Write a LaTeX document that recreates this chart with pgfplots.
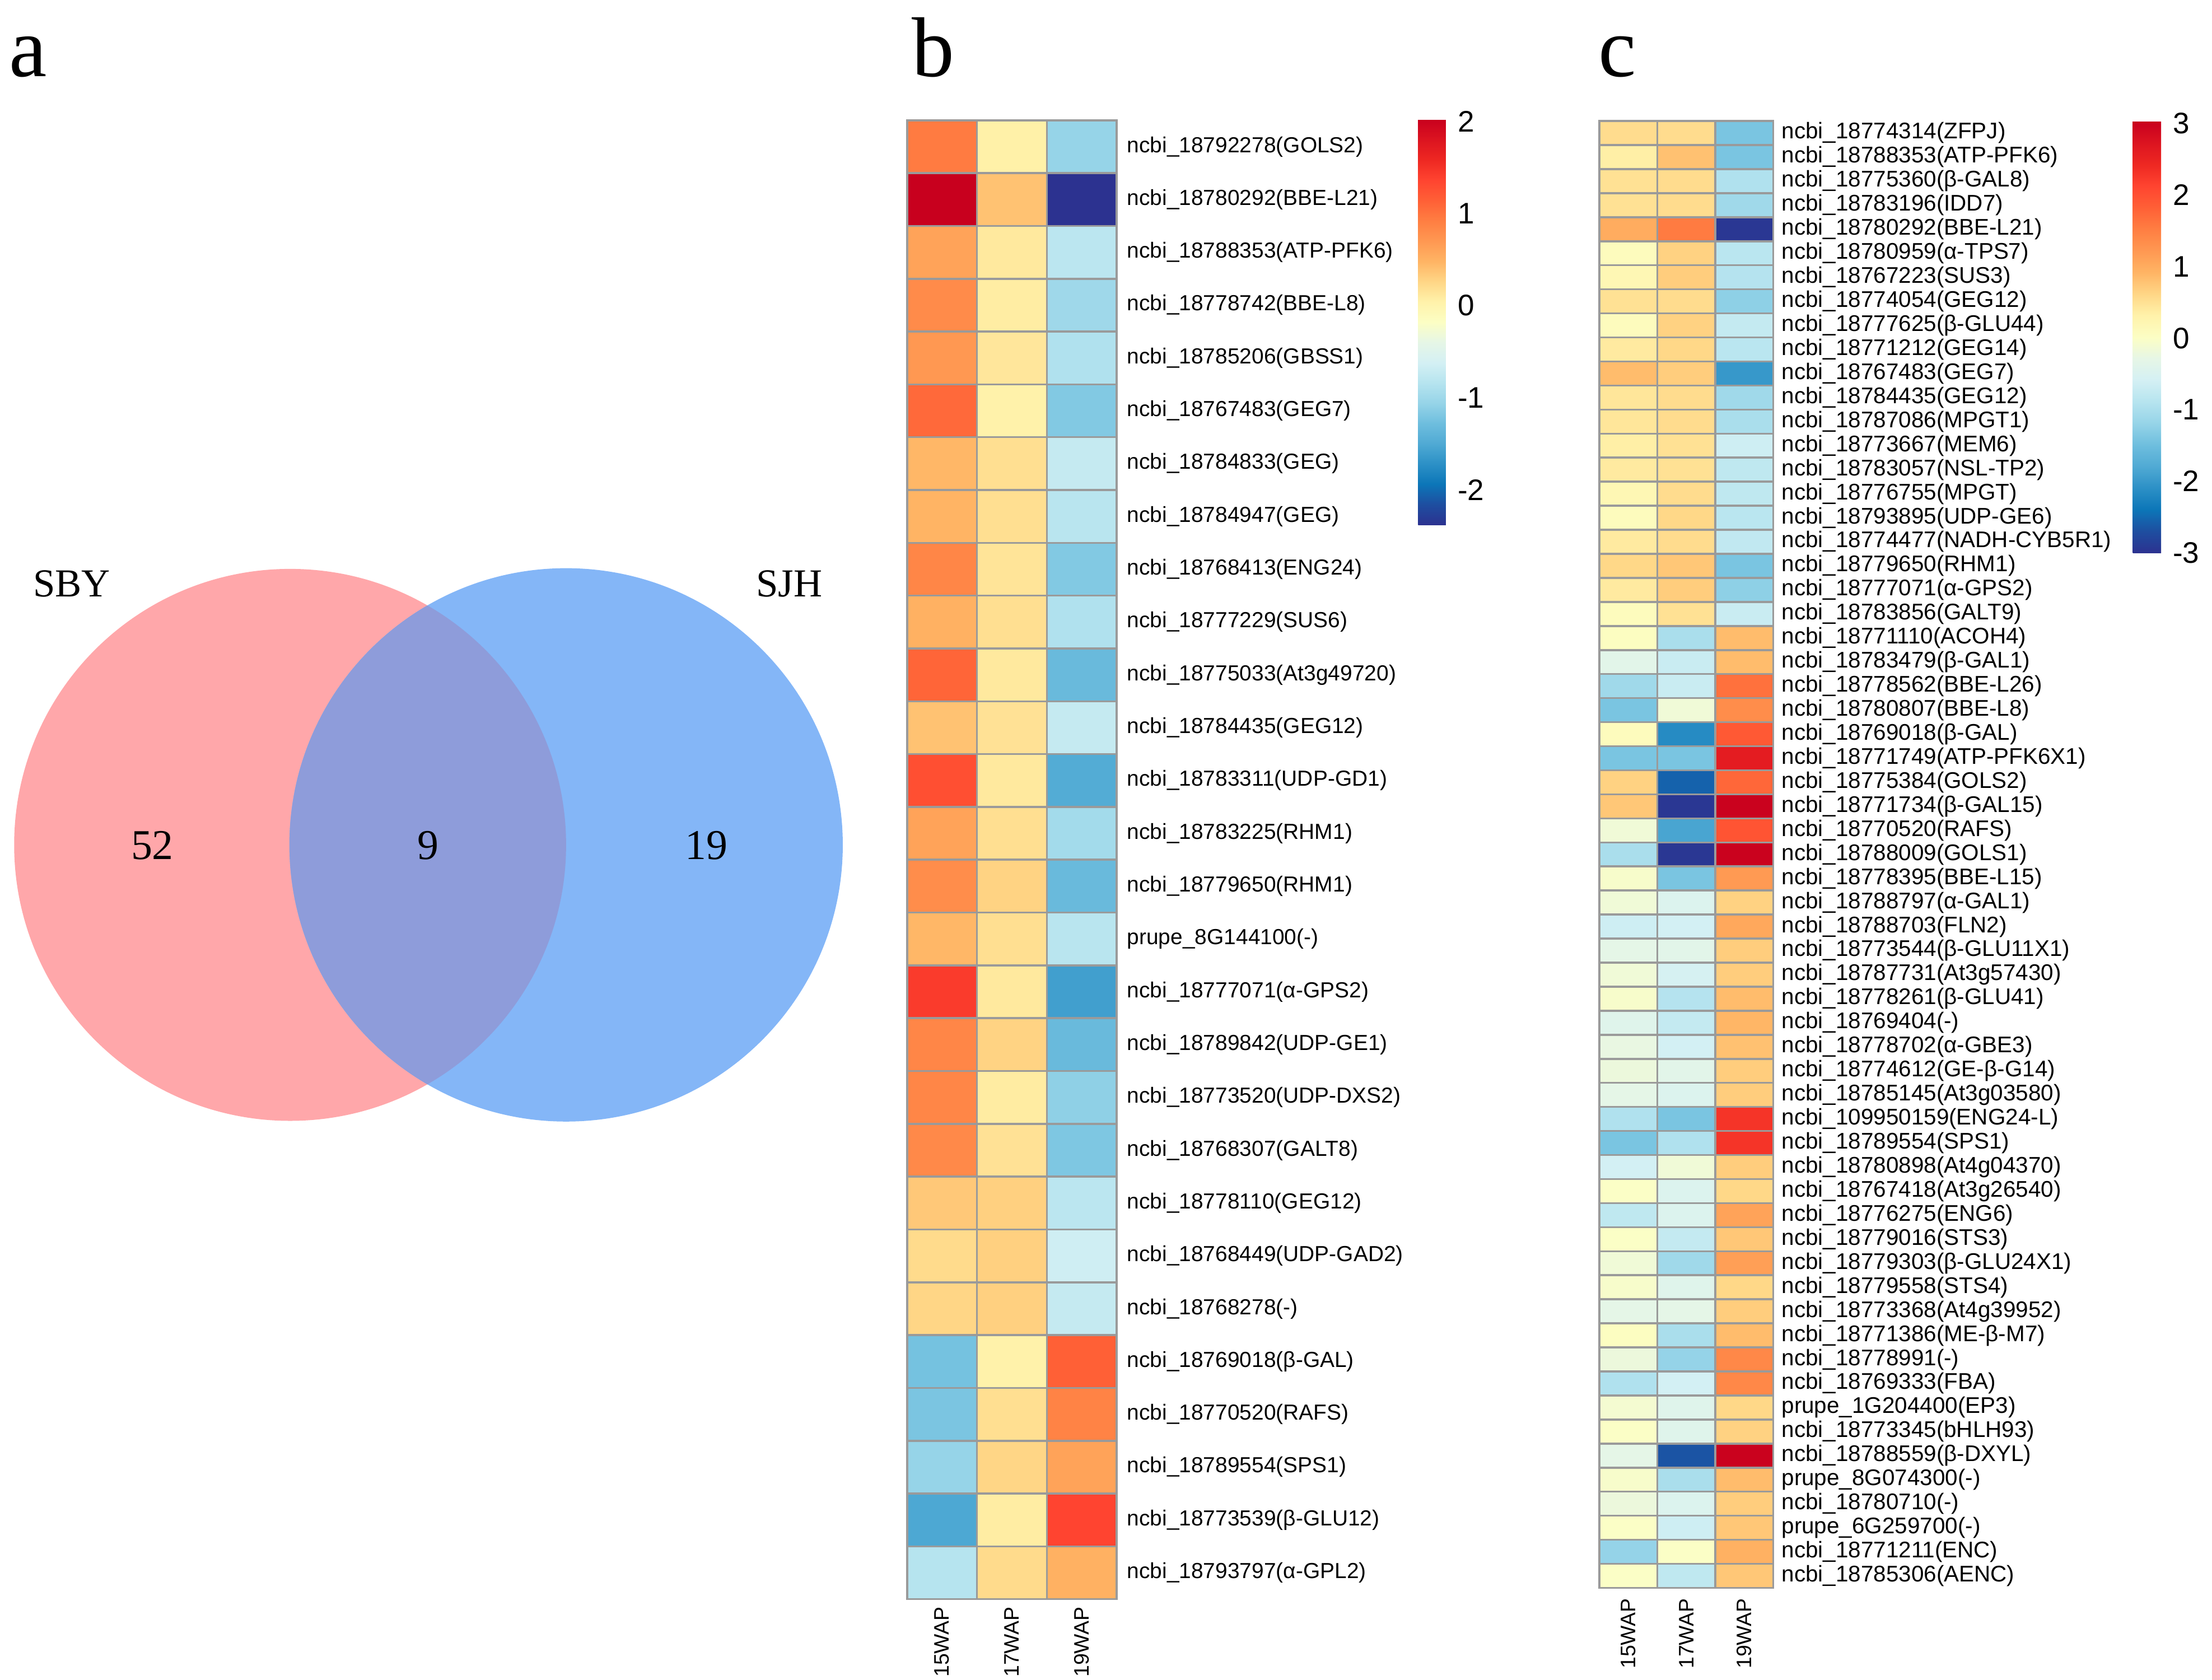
\documentclass[border=0pt]{standalone}
\usepackage{fontspec}
\setmainfont{Liberation Serif}
\newfontfamily\hv{Liberation Sans}
\usepackage{pgfplots}
\usepackage{pgfplotstable}
\pgfplotsset{compat=1.18}

% layout is measured on a 1563 x 1187 grid, 1 unit = 0.5pt
\definecolor{vennpink}{HTML}{FFA7AA}
\definecolor{vennblue}{HTML}{84B6F7}
\definecolor{vennmix}{HTML}{8E9CDA}
\definecolor{cellline}{HTML}{9A9A9A}

\pgfplotsset{
  colormap={heat}{rgb255=(44,50,144) rgb255=(30,78,160) rgb255=(12,118,184)
    rgb255=(44,144,198) rgb255=(80,170,212) rgb255=(110,190,222) rgb255=(150,212,232)
    rgb255=(182,228,239) rgb255=(212,240,244) rgb255=(230,246,230) rgb255=(252,254,196)
    rgb255=(255,242,170) rgb255=(255,214,134) rgb255=(255,180,100) rgb255=(255,152,82)
    rgb255=(255,126,66) rgb255=(255,96,54) rgb255=(255,68,48) rgb255=(238,40,34)
    rgb255=(220,20,32) rgb255=(200,0,30)},
  heatmap/.style={
    scale only axis, anchor=north west,
    xmin=-0.5, xmax=2.5, y dir=reverse,
    colormap name=heat,
    xtick={0,1,2}, xticklabels={15WAP,17WAP,19WAP},
    yticklabel pos=right,
    major tick length=0pt, minor tick length=0pt,
    tick style={draw=none},
    minor xtick={0.5,1.5},
    xminorgrids=true, yminorgrids=true,
    minor grid style={cellline, line width=0.7pt},
    axis line style={cellline, line width=0.7pt},
    axis on top,
    xticklabel style={font=\hv\fontsize{7.4}{8}\selectfont, rotate=90, anchor=east, inner ysep=0pt},
    yticklabel style={anchor=west, inner sep=0pt},
  },
  % a tiny hidden axis whose north east corner is the colour key's top left corner
  keyholder/.style={
    scale only axis, anchor=north east, width=1pt,
    xmin=0, xmax=1, ymin=0, ymax=1, hide axis,
    colormap name=heat,
    colorbar,
    colorbar shift/.style={xshift=0pt},
    colorbar style={at={(parent axis.north east)}, anchor=north west, scale only axis,
      yticklabel pos=right, major tick length=0pt, tick style={draw=none},
      axis line style={draw=none},
      yticklabel style={font=\hv\fontsize{10.5}{12}\selectfont, anchor=west, inner sep=0pt, xshift=4pt}},
  },
}

\pgfplotstableread{
x y c
0 0 0.94
1 0 0.05
2 0 -1.06
0 1 2.02
1 1 0.39
2 1 -2.38
0 2 0.61
1 2 0.11
2 2 -0.80
0 3 0.81
1 3 0.08
2 3 -1.00
0 4 0.70
1 4 0.13
2 4 -0.88
0 5 1.07
1 5 0.04
2 5 -1.17
0 6 0.46
1 6 0.19
2 6 -0.73
0 7 0.48
1 7 0.19
2 7 -0.82
0 8 0.85
1 8 0.15
2 8 -1.17
0 9 0.50
1 9 0.19
2 9 -0.88
0 10 1.10
1 10 0.11
2 10 -1.32
0 11 0.39
1 11 0.17
2 11 -0.73
0 12 1.27
1 12 0.11
2 12 -1.48
0 13 0.61
1 13 0.19
2 13 -0.97
0 14 0.79
1 14 0.28
2 14 -1.32
0 15 0.46
1 15 0.19
2 15 -0.82
0 16 1.43
1 16 0.11
2 16 -1.59
0 17 0.85
1 17 0.28
2 17 -1.32
0 18 0.85
1 18 0.09
2 18 -1.10
0 19 0.83
1 19 0.17
2 19 -1.19
0 20 0.35
1 20 0.30
2 20 -0.80
0 21 0.22
1 21 0.30
2 21 -0.66
0 22 0.26
1 22 0.30
2 22 -0.73
0 23 -1.24
1 23 0.04
2 23 1.14
0 24 -1.21
1 24 0.19
2 24 0.88
0 25 -1.06
1 25 0.26
2 25 0.61
0 26 -1.52
1 26 0.08
2 26 1.36
0 27 -0.84
1 27 0.22
2 27 0.50
}\tabb

\pgfplotstableread{
x y c
0 0 0.55
1 0 0.55
2 0 -1.4
0 1 0.35
1 1 0.8
2 1 -1.4
0 2 0.5
1 2 0.55
2 2 -0.95
0 3 0.5
1 3 0.55
2 3 -1.1
0 4 1.0
1 4 1.55
2 4 -2.95
0 5 0.1
1 5 0.65
2 5 -0.85
0 6 0.2
1 6 0.7
2 6 -0.9
0 7 0.5
1 7 0.55
2 7 -1.25
0 8 0.1
1 8 0.65
2 8 -0.75
0 9 0.4
1 9 0.6
2 9 -0.85
0 10 0.85
1 10 0.7
2 10 -2.0
0 11 0.45
1 11 0.55
2 11 -1.1
0 12 0.45
1 12 0.55
2 12 -1.0
0 13 0.35
1 13 0.5
2 13 -0.65
0 14 0.4
1 14 0.5
2 14 -0.8
0 15 0.2
1 15 0.55
2 15 -0.8
0 16 0.1
1 16 0.6
2 16 -0.85
0 17 0.4
1 17 0.55
2 17 -0.78
0 18 0.6
1 18 0.75
2 18 -1.4
0 19 0.4
1 19 0.7
2 19 -1.25
0 20 0.1
1 20 0.5
2 20 -0.7
0 21 0.05
1 21 -1.0
2 21 0.85
0 22 -0.35
1 22 -0.7
2 22 0.85
0 23 -1.1
1 23 -0.7
2 23 1.65
0 24 -1.4
1 24 -0.15
2 24 1.35
0 25 0.1
1 25 -2.15
2 25 1.9
0 26 -1.4
1 26 -1.4
2 26 2.6
0 27 0.65
1 27 -2.55
2 27 1.75
0 28 0.75
1 28 -2.95
2 28 3.0
0 29 -0.15
1 29 -1.85
2 29 1.95
0 30 -1.0
1 30 -2.95
2 30 3.0
0 31 -0.05
1 31 -1.4
2 31 1.2
0 32 -0.15
1 32 -0.45
2 32 0.65
0 33 -0.65
1 33 -0.6
2 33 1.05
0 34 -0.3
1 34 -0.35
2 34 0.7
0 35 -0.15
1 35 -0.55
2 35 0.7
0 36 -0.05
1 36 -0.9
2 36 0.85
0 37 -0.4
1 37 -0.75
2 37 0.9
0 38 -0.25
1 38 -0.6
2 38 0.8
0 39 -0.2
1 39 -0.35
2 39 0.7
0 40 -0.3
1 40 -0.45
2 40 0.7
0 41 -0.95
1 41 -1.4
2 41 2.3
0 42 -1.4
1 42 -0.95
2 42 2.3
0 43 -0.6
1 43 -0.15
2 43 0.7
0 44 0.0
1 44 -0.45
2 44 0.6
0 45 -0.8
1 45 -0.45
2 45 1.1
0 46 0.0
1 46 -0.75
2 46 0.75
0 47 -0.15
1 47 -1.1
2 47 1.15
0 48 -0.05
1 48 -0.4
2 48 0.6
0 49 -0.3
1 49 -0.3
2 49 0.7
0 50 0.05
1 50 -1.0
2 50 0.85
0 51 -0.2
1 51 -1.2
2 51 1.4
0 52 -0.95
1 52 -0.6
2 52 1.4
0 53 -0.1
1 53 -0.4
2 53 0.6
0 54 0.0
1 54 -0.4
2 54 0.65
0 55 -0.3
1 55 -2.65
2 55 3.0
0 56 -0.05
1 56 -1.0
2 56 0.85
0 57 -0.2
1 57 -0.45
2 57 0.7
0 58 0.0
1 58 -0.65
2 58 0.75
0 59 -1.2
1 59 0.0
2 59 0.95
0 60 0.0
1 60 -0.8
2 60 0.75
}\tabc

\begin{document}
\begin{tikzpicture}
\useasboundingbox (0,0) rectangle (781.5pt,593.5pt);

% panel letters
\node[anchor=base west, inner sep=0pt, font=\fontsize{30}{36}\selectfont] at (3pt,566.5pt) {a};
\node[anchor=base west, inner sep=0pt, font=\fontsize{30}{36}\selectfont] at (322pt,566.5pt) {b};
\node[anchor=base west, inner sep=0pt, font=\fontsize{30}{36}\selectfont] at (564.5pt,566.5pt) {c};

% a: Venn diagram
\begin{axis}[at={(0pt,403.5pt)}, anchor=north west, scale only axis,
  width=300pt, height=210pt, xmin=0, xmax=600, ymin=380, ymax=800,
  y dir=reverse, hide axis, clip=false]
\fill[vennpink] (axis cs:205,597) circle[radius=97.5pt];
\fill[vennblue] (axis cs:400,597) circle[radius=97.75pt];
\begin{scope}
\clip (axis cs:205,597) circle[radius=97.5pt];
\fill[vennmix] (axis cs:400,597) circle[radius=97.75pt];
\end{scope}
\node[font=\fontsize{15}{18}\selectfont, inner sep=0pt] at (axis cs:107.6,597.5) {52};
\node[font=\fontsize{15}{18}\selectfont, inner sep=0pt] at (axis cs:302.4,597.5) {9};
\node[font=\fontsize{15}{18}\selectfont, inner sep=0pt] at (axis cs:499,597.5) {19};
\node[font=\fontsize{14}{17}\selectfont, inner sep=0pt, anchor=base west] at (axis cs:23,421.6) {SBY};
\node[font=\fontsize{14}{17}\selectfont, inner sep=0pt, anchor=base west] at (axis cs:534,421.6) {SJH};
\end{axis}

% b: heatmap
\begin{axis}[heatmap,
  at={(320.5pt,551pt)}, width=74pt, height=522.5pt,
  ymin=-0.5, ymax=27.5,
  point meta min=-2.38, point meta max=2.02,
  ytick={0,...,27},
  minor ytick={0.5,1.5,...,26.5},
  xticklabel style={inner xsep=2.5pt},
  yticklabel style={font=\hv\fontsize{7.7}{9}\selectfont, xshift=3.5pt},
  yticklabels={ncbi\_18792278(GOLS2),ncbi\_18780292(BBE-L21),ncbi\_18788353(ATP-PFK6),
    ncbi\_18778742(BBE-L8),ncbi\_18785206(GBSS1),ncbi\_18767483(GEG7),ncbi\_18784833(GEG),
    ncbi\_18784947(GEG),ncbi\_18768413(ENG24),ncbi\_18777229(SUS6),ncbi\_18775033(At3g49720),
    ncbi\_18784435(GEG12),ncbi\_18783311(UDP-GD1),ncbi\_18783225(RHM1),ncbi\_18779650(RHM1),
    prupe\_8G144100(-),ncbi\_18777071(α-GPS2),ncbi\_18789842(UDP-GE1),ncbi\_18773520(UDP-DXS2),
    ncbi\_18768307(GALT8),ncbi\_18778110(GEG12),ncbi\_18768449(UDP-GAD2),ncbi\_18768278(-),
    ncbi\_18769018(β-GAL),ncbi\_18770520(RAFS),ncbi\_18789554(SPS1),ncbi\_18773539(β-GLU12),
    ncbi\_18793797(α-GPL2)},
]
\addplot[matrix plot*, mesh/cols=3, point meta=explicit] table[meta=c] {\tabb};
\end{axis}

% b: colour key
\begin{axis}[keyholder, at={(501pt,551.3pt)}, height=143.2pt,
  point meta min=-2.38, point meta max=2.02,
  colorbar style={width=9.8pt, height=143.2pt,
    ytick={-2,-1,0,1,2}, yticklabels={-2,-1,0,1,2}}]
\end{axis}

% c: heatmap
\begin{axis}[heatmap,
  at={(565pt,550.75pt)}, width=61.5pt, height=518.25pt,
  ymin=-0.5, ymax=60.5,
  point meta min=-3, point meta max=3.03,
  ytick={0,...,60},
  minor ytick={0.5,1.5,...,59.5},
  xticklabel style={inner xsep=3.5pt},
  yticklabel style={font=\hv\fontsize{8}{9}\selectfont, xshift=2.75pt},
  yticklabels={ncbi\_18774314(ZFPJ),ncbi\_18788353(ATP-PFK6),ncbi\_18775360(β-GAL8),
    ncbi\_18783196(IDD7),ncbi\_18780292(BBE-L21),ncbi\_18780959(α-TPS7),ncbi\_18767223(SUS3),
    ncbi\_18774054(GEG12),ncbi\_18777625(β-GLU44),ncbi\_18771212(GEG14),ncbi\_18767483(GEG7),
    ncbi\_18784435(GEG12),ncbi\_18787086(MPGT1),ncbi\_18773667(MEM6),ncbi\_18783057(NSL-TP2),
    ncbi\_18776755(MPGT),ncbi\_18793895(UDP-GE6),ncbi\_18774477(NADH-CYB5R1),ncbi\_18779650(RHM1),
    ncbi\_18777071(α-GPS2),ncbi\_18783856(GALT9),ncbi\_18771110(ACOH4),ncbi\_18783479(β-GAL1),
    ncbi\_18778562(BBE-L26),ncbi\_18780807(BBE-L8),ncbi\_18769018(β-GAL),ncbi\_18771749(ATP-PFK6X1),
    ncbi\_18775384(GOLS2),ncbi\_18771734(β-GAL15),ncbi\_18770520(RAFS),ncbi\_18788009(GOLS1),
    ncbi\_18778395(BBE-L15),ncbi\_18788797(α-GAL1),ncbi\_18788703(FLN2),ncbi\_18773544(β-GLU11X1),
    ncbi\_18787731(At3g57430),ncbi\_18778261(β-GLU41),ncbi\_18769404(-),ncbi\_18778702(α-GBE3),
    ncbi\_18774612(GE-β-G14),ncbi\_18785145(At3g03580),ncbi\_109950159(ENG24-L),ncbi\_18789554(SPS1),
    ncbi\_18780898(At4g04370),ncbi\_18767418(At3g26540),ncbi\_18776275(ENG6),ncbi\_18779016(STS3),
    ncbi\_18779303(β-GLU24X1),ncbi\_18779558(STS4),ncbi\_18773368(At4g39952),ncbi\_18771386(ME-β-M7),
    ncbi\_18778991(-),ncbi\_18769333(FBA),prupe\_1G204400(EP3),ncbi\_18773345(bHLH93),
    ncbi\_18788559(β-DXYL),prupe\_8G074300(-),ncbi\_18780710(-),prupe\_6G259700(-),
    ncbi\_18771211(ENC),ncbi\_18785306(AENC)},
]
\addplot[matrix plot*, mesh/cols=3, point meta=explicit] table[meta=c] {\tabc};
\end{axis}

% c: colour key
\begin{axis}[keyholder, at={(753.5pt,550.6pt)}, height=152.4pt,
  point meta min=-3, point meta max=3.03,
  colorbar style={width=10pt, height=152.4pt,
    ytick={-3,-2,-1,0,1,2,3}, yticklabels={-3,-2,-1,0,1,2,3}}]
\end{axis}
\end{tikzpicture}
\end{document}
